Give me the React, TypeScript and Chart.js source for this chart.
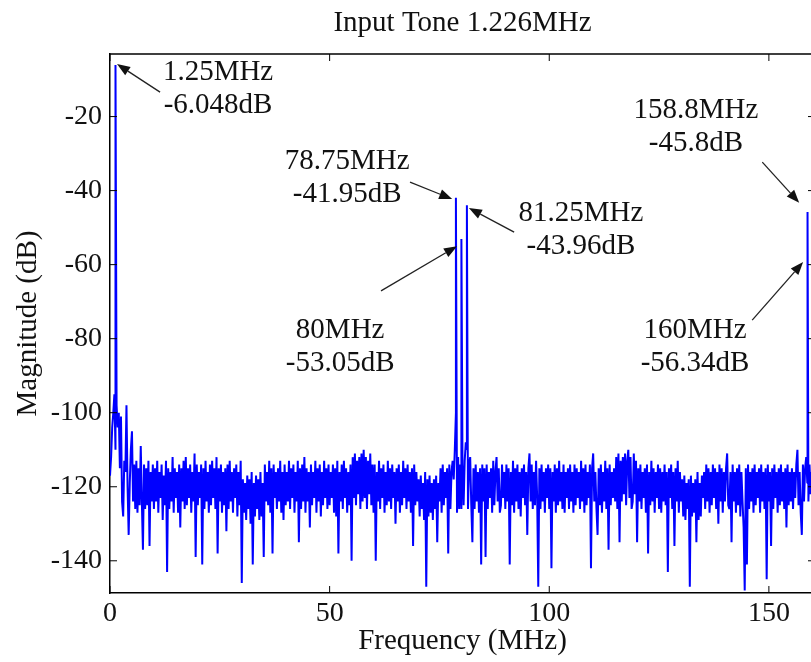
import React, { useEffect, useRef } from "react";
import { Chart, registerables } from "chart.js";

Chart.register(...registerables);

const titleText = "Input Tone 1.226MHz";
const xTitle = "Frequency (MHz)";
const yTitle = "Magnitude (dB)";
const xTicks = [0, 50, 100, 150];
const yTicks = [-140, -120, -100, -80, -60, -40, -20];
const xRange = [0, 160.5];
const yRange = [-148.7, -3.1];

// FFT bins every 0.25 MHz starting at 0 MHz (noise floor), 20 bins per row
const binStartMHz = 0;
const binStepMHz = 0.25;
const floorDb = [
  -117, -112, -104, -100, -95, -110, -98, -104, -100, -115, -101, -124, -128, -113, -116, -98, -120, -133, -119, -110,
  -105, -124, -114, -126, -113, -127, -115, -125, -109, -124, -137, -114, -126, -115, -125, -113, -136, -116, -124, -114,
  -126, -115, -124, -113, -127, -116, -123, -114, -129, -117, -125, -113, -143, -115, -126, -116, -124, -112, -127, -115,
  -123, -116, -127, -114, -131, -115, -124, -113, -126, -112, -125, -115, -123, -114, -127, -116, -124, -111, -139, -114,
  -125, -116, -123, -114, -141, -115, -126, -113, -124, -116, -127, -114, -125, -113, -123, -115, -126, -112, -138, -115,
  -124, -114, -127, -116, -125, -115, -132, -114, -126, -113, -124, -116, -127, -115, -123, -114, -128, -116, -125, -113,
  -146, -118, -127, -119, -129, -117, -126, -118, -130, -116, -141, -119, -128, -117, -126, -118, -129, -116, -128, -119,
  -139, -114, -124, -116, -125, -113, -127, -115, -138, -114, -123, -116, -126, -115, -124, -113, -127, -116, -129, -114,
  -125, -116, -124, -113, -126, -115, -123, -114, -127, -116, -124, -113, -135, -115, -126, -114, -124, -112, -127, -115,
  -124, -116, -131, -114, -125, -116, -123, -113, -127, -115, -124, -114, -128, -116, -125, -113, -123, -115, -126, -114,
  -125, -116, -123, -114, -127, -115, -128, -113, -138, -116, -124, -114, -126, -113, -123, -115, -127, -116, -125, -114,
  -140, -112, -123, -111, -125, -113, -122, -112, -126, -111, -124, -110, -123, -112, -126, -113, -122, -111, -125, -114,
  -127, -114, -140, -116, -124, -113, -126, -115, -123, -114, -127, -116, -125, -113, -124, -115, -126, -114, -123, -116,
  -130, -115, -124, -114, -127, -116, -125, -113, -123, -115, -126, -114, -124, -116, -127, -115, -136, -114, -125, -116,
  -124, -118, -128, -117, -126, -119, -129, -116, -147, -118, -128, -117, -127, -119, -129, -118, -126, -117, -135, -119,
  -124, -115, -127, -114, -125, -116, -123, -115, -138, -114, -126, -116, -113, -118, -110, -100, -127, -112, -126, -114,
  -126, -114, -125, -113, -108, -110, -126, -114, -112, -125, -135, -115, -126, -114, -124, -116, -127, -115, -141, -114,
  -124, -115, -139, -114, -126, -116, -123, -115, -127, -113, -125, -116, -112, -124, -115, -127, -125, -114, -123, -116,
  -126, -114, -124, -115, -141, -116, -125, -113, -127, -115, -124, -114, -126, -116, -128, -115, -123, -114, -125, -116,
  -133, -115, -111, -124, -114, -126, -116, -125, -113, -123, -147, -115, -126, -114, -124, -116, -127, -115, -123, -114,
  -126, -115, -142, -116, -124, -114, -127, -115, -125, -113, -124, -116, -126, -114, -127, -116, -123, -115, -126, -114,
  -124, -116, -127, -114, -125, -115, -123, -116, -126, -113, -124, -115, -127, -114, -125, -116, -123, -114, -142, -115,
  -111, -124, -116, -126, -133, -115, -125, -114, -127, -116, -124, -113, -126, -115, -137, -114, -125, -116, -123, -115,
  -124, -112, -126, -111, -135, -113, -124, -112, -122, -111, -125, -113, -110, -123, -112, -126, -124, -111, -122, -113,
  -135, -115, -124, -114, -126, -116, -123, -115, -127, -114, -138, -116, -125, -113, -124, -115, -127, -116, -123, -114,
  -126, -115, -127, -116, -124, -114, -125, -116, -143, -115, -123, -114, -126, -116, -136, -115, -124, -113, -127, -116,
  -124, -118, -128, -117, -129, -119, -126, -118, -147, -117, -128, -119, -127, -118, -135, -116, -129, -119, -128, -117,
  -123, -116, -126, -114, -124, -115, -127, -116, -125, -114, -123, -115, -126, -116, -130, -114, -124, -115, -127, -116,
  -124, -115, -111, -125, -126, -116, -135, -114, -124, -116, -127, -115, -125, -114, -128, -116, -124, -131, -148, -115,
  -141, -114, -126, -116, -124, -115, -127, -114, -125, -116, -123, -115, -127, -114, -124, -116, -126, -115, -145, -114,
  -124, -116, -136, -115, -126, -114, -123, -116, -127, -115, -125, -114, -124, -116, -126, -115, -131, -114, -125, -116,
  -124, -115, -126, -116, -123, -114, -110, -125, -116, -127, -133, -114, -124, -115, -112, -119, -124, -114, -122, -116,
  -125, -115, -123,
];

// Tones and spurs
const spurFreqMHz = [1.25, 78.75, 80, 81.25, 158.8, 160];
const spurDb = [-6.048, -41.95, -53.05, -43.96, -45.8, -56.34];

// Annotations (text blocks and arrows, in data coordinates)
const noteLines = [
  ["1.25MHz", "-6.048dB"],
  ["78.75MHz", "-41.95dB"],
  ["81.25MHz", "-43.96dB"],
  ["80MHz", "-53.05dB"],
  ["158.8MHz", "-45.8dB"],
  ["160MHz", "-56.34dB"],
];
const noteCenter = [
  [24.6, -12.4],
  [54.0, -36.7],
  [107.2, -50.6],
  [52.4, -82.1],
  [133.4, -22.7],
  [133.2, -82.1],
];
const arrowTail = [
  [11.4, -13.4],
  [68.3, -37.7],
  [92.0, -51.2],
  [61.7, -67.1],
  [148.5, -32.3],
  [146.2, -75.0],
];
const arrowHead = [
  [1.6, -5.8],
  [77.9, -42.3],
  [81.7, -44.7],
  [79.0, -55.0],
  [156.9, -43.3],
  [157.8, -59.3],
];

const SERIF = "'Liberation Serif', 'Times New Roman', serif";

function buildPoints() {
  const pts = floorDb.map((v, i) => ({ x: binStartMHz + i * binStepMHz, y: v, o: 0 }));
  spurFreqMHz.forEach((f, i) => pts.push({ x: f, y: spurDb[i], o: 1 }));
  pts.sort((a, b) => a.x - b.x || a.o - b.o);
  return pts.map((p) => ({ x: p.x, y: p.y }));
}

const decorPlugin = {
  id: "decor",
  afterDatasetsDraw(chart: any) {
    const { ctx, chartArea: a, scales } = chart;
    const x = scales.x;
    const y = scales.y;
    ctx.save();
    ctx.strokeStyle = "#000";
    ctx.lineWidth = 1.5;
    ctx.beginPath();
    ctx.moveTo(a.left, a.top);
    ctx.lineTo(a.right, a.top);
    ctx.lineTo(a.right, a.bottom);
    ctx.stroke();

    const tl = 7;
    ctx.lineWidth = 1;
    ctx.beginPath();
    xTicks.forEach((v) => {
      const px = x.getPixelForValue(v);
      ctx.moveTo(px, a.bottom);
      ctx.lineTo(px, a.bottom - tl);
      ctx.moveTo(px, a.top);
      ctx.lineTo(px, a.top + tl);
    });
    yTicks.forEach((v) => {
      const py = y.getPixelForValue(v);
      ctx.moveTo(a.left, py);
      ctx.lineTo(a.left + tl, py);
      ctx.moveTo(a.right, py);
      ctx.lineTo(a.right - tl, py);
    });
    ctx.stroke();

    // title
    ctx.fillStyle = "#111";
    ctx.font = "29px " + SERIF;
    ctx.textAlign = "center";
    ctx.textBaseline = "middle";
    ctx.fillText(titleText, (a.left + a.right) / 2, 23);

    // annotations
    const lineGap = 33;
    noteLines.forEach((lines, i) => {
      const cx = x.getPixelForValue(noteCenter[i][0]);
      const cy = y.getPixelForValue(noteCenter[i][1]);
      ctx.fillStyle = "#111";
      ctx.fillText(lines[0], cx, cy - lineGap / 2);
      ctx.fillText(lines[1], cx, cy + lineGap / 2);

      const x0 = x.getPixelForValue(arrowTail[i][0]);
      const y0 = y.getPixelForValue(arrowTail[i][1]);
      const x1 = x.getPixelForValue(arrowHead[i][0]);
      const y1 = y.getPixelForValue(arrowHead[i][1]);
      const ang = Math.atan2(y1 - y0, x1 - x0);
      const hl = 13;
      const hw = 5;
      const bx = x1 - hl * Math.cos(ang);
      const by = y1 - hl * Math.sin(ang);
      ctx.strokeStyle = "#222";
      ctx.lineWidth = 1.3;
      ctx.beginPath();
      ctx.moveTo(x0, y0);
      ctx.lineTo(bx, by);
      ctx.stroke();
      ctx.fillStyle = "#111";
      ctx.beginPath();
      ctx.moveTo(x1, y1);
      ctx.lineTo(bx + hw * Math.sin(ang), by - hw * Math.cos(ang));
      ctx.lineTo(bx - hw * Math.sin(ang), by + hw * Math.cos(ang));
      ctx.closePath();
      ctx.fill();
    });
    ctx.restore();
  },
};

export default function App() {
  const ref = useRef<HTMLCanvasElement | null>(null);
  useEffect(() => {
    if (!ref.current) return;
    const chart = new Chart(ref.current, {
      type: "line",
      data: {
        datasets: [
          {
            data: buildPoints(),
            borderColor: "#0000ff",
            borderWidth: 2,
            borderJoinStyle: "bevel",
            pointRadius: 0,
            tension: 0,
            fill: false,
          },
        ],
      },
      options: {
        responsive: false,
        animation: false,
        layout: { padding: { top: 54, left: 0, right: 0, bottom: 0 } },
        plugins: {
          legend: { display: false },
          tooltip: { enabled: false },
          title: { display: false },
        },
        scales: {
          x: {
            type: "linear",
            min: xRange[0],
            max: xRange[1],
            afterFit: (s: any) => {
              s.height = 69;
            },
            afterBuildTicks: (s: any) => {
              s.ticks = xTicks.map((v) => ({ value: v }));
            },
            grid: { display: false, drawTicks: false },
            border: { display: true, color: "#000", width: 1.5 },
            ticks: {
              padding: 4,
              color: "#111",
              font: { family: SERIF, size: 28 },
              maxRotation: 0,
              callback: (v: any) => String(v),
            },
            title: {
              display: true,
              text: xTitle,
              color: "#111",
              font: { family: SERIF, size: 29 },
              padding: { top: 0, bottom: 3 },
            },
          },
          y: {
            type: "linear",
            min: yRange[0],
            max: yRange[1],
            afterFit: (s: any) => {
              s.width = 110;
            },
            afterBuildTicks: (s: any) => {
              s.ticks = yTicks.map((v) => ({ value: v }));
            },
            grid: { display: false, drawTicks: false },
            border: { display: true, color: "#000", width: 1.5 },
            ticks: {
              padding: 8,
              color: "#111",
              font: { family: SERIF, size: 28 },
              callback: (v: any) => String(v),
            },
            title: {
              display: true,
              text: yTitle,
              color: "#111",
              font: { family: SERIF, size: 29 },
              padding: { top: 10.6, bottom: 0 },
            },
          },
        },
      },
      plugins: [decorPlugin],
    });
    return () => chart.destroy();
  }, []);
  return (
    <div
      style={{
        position: "fixed",
        left: 0,
        top: 0,
        width: 811,
        height: 662,
        overflow: "hidden",
        background: "#fff",
      }}
    >
      <canvas ref={ref} width={815} height={662} style={{ display: "block" }} />
    </div>
  );
}
